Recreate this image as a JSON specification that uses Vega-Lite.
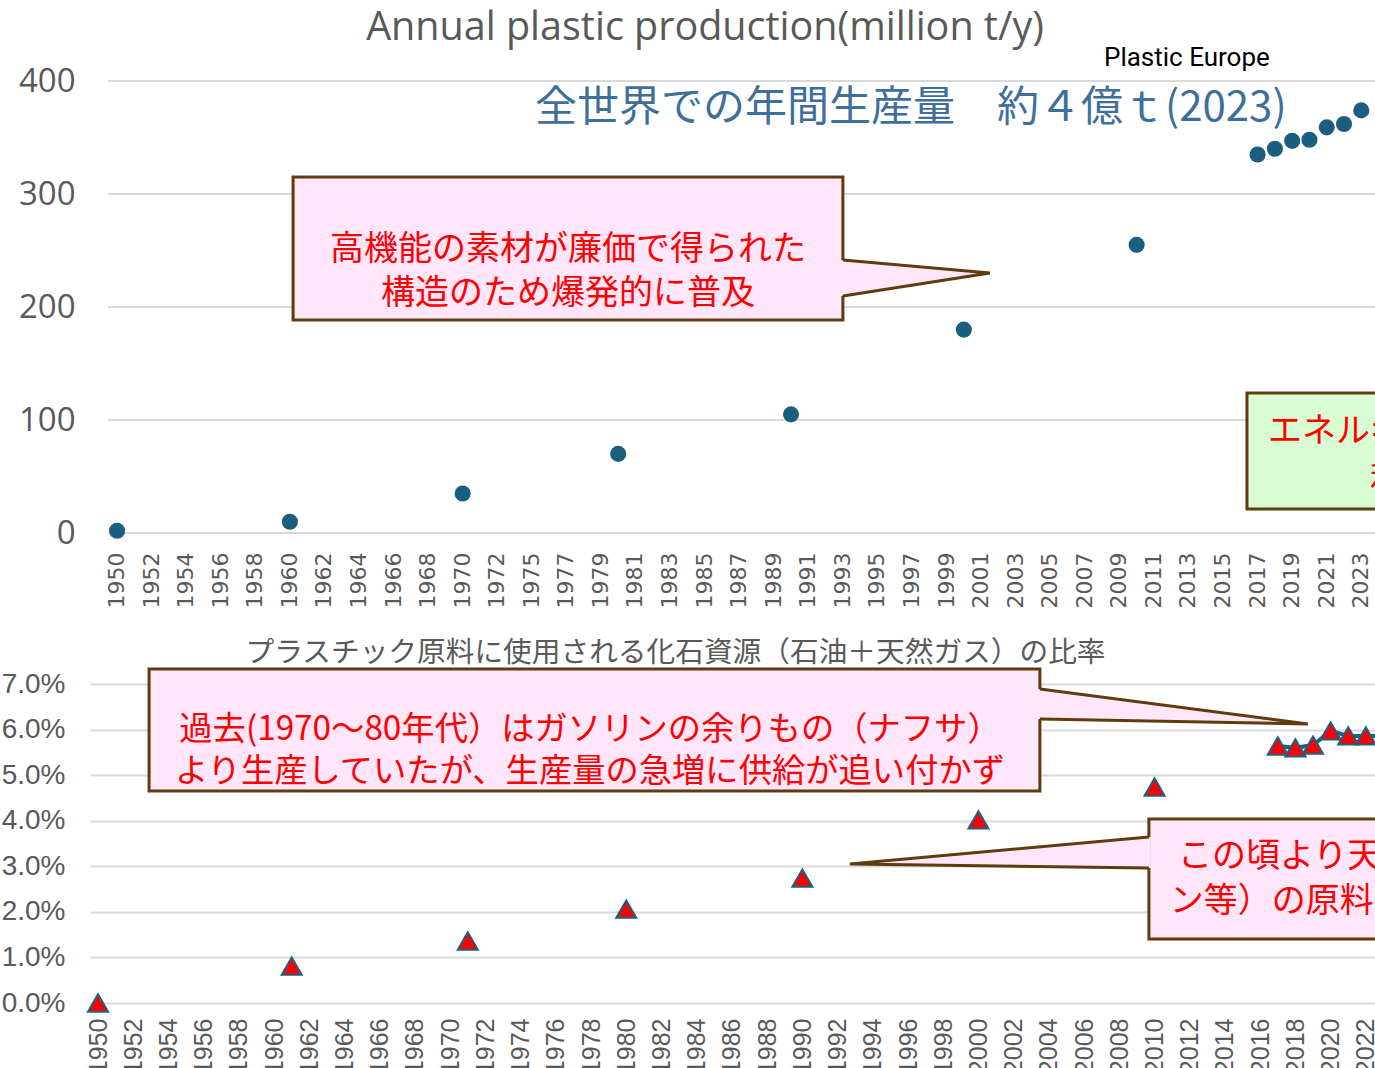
{
  "$schema": "https://vega.github.io/schema/vega-lite/v6.json",
  "usermeta": {"embedOptions": {"actions": false}},
  "padding": {"left": 0, "top": 8, "right": 0, "bottom": 0},
  "background": "white",
  "spacing": 30,
  "config": {"view": {"stroke": null}},
  "datasets": {
    "production": [
      {"year": 1950, "value": 2},
      {"year": 1960, "value": 10},
      {"year": 1970, "value": 35},
      {"year": 1980, "value": 70},
      {"year": 1990, "value": 105},
      {"year": 2000, "value": 180},
      {"year": 2010, "value": 255},
      {"year": 2017, "value": 335},
      {"year": 2018, "value": 340},
      {"year": 2019, "value": 347},
      {"year": 2020, "value": 348},
      {"year": 2021, "value": 359},
      {"year": 2022, "value": 362},
      {"year": 2023, "value": 374}
    ],
    "ratio": [
      {"year": 1950, "share": 0.0},
      {"year": 1961, "share": 0.0081},
      {"year": 1971, "share": 0.0136},
      {"year": 1980, "share": 0.0206},
      {"year": 1990, "share": 0.0274},
      {"year": 2000, "share": 0.0402},
      {"year": 2010, "share": 0.0474},
      {"year": 2017, "share": 0.0564},
      {"year": 2018, "share": 0.0560},
      {"year": 2019, "share": 0.0566},
      {"year": 2020, "share": 0.0597},
      {"year": 2021, "share": 0.0586},
      {"year": 2022, "share": 0.0586},
      {"year": 2023, "share": 0.0586}
    ]
  },
  "vconcat": [
    {
      "title": {"text": "Annual plastic production(million t/y)", "font": "Open Sans", "fontSize": 39.5, "fontWeight": "normal", "color": "#595959", "dx": -27.5, "offset": -4, "frame": "group"},
      "width": 1285,
      "height": 452,
      "resolve": {"scale": {"x": "independent"}},
      "layer": [
        {
          "encoding": {
            "x": {"field": "x", "type": "quantitative", "title": null, "axis": null, "scale": {"domain": [-1.5656, 72.7547], "nice": false, "zero": false}},
            "y": {"field": "y", "type": "quantitative", "title": null, "scale": {"domain": [0, 400], "nice": false, "zero": true}}
          },
          "layer": [
            {
              "data": {"values": [{"x": -0.525, "x2": 72.7547, "y": 0}, {"x": -0.525, "x2": 72.7547, "y": 100}, {"x": -0.525, "x2": 72.7547, "y": 200}, {"x": -0.525, "x2": 72.7547, "y": 300}, {"x": -0.525, "x2": 72.7547, "y": 400}]},
              "mark": {"type": "rule", "color": "#d9d9d9", "strokeWidth": 2},
              "encoding": {"x2": {"field": "x2"}}
            },
            {
              "data": {"values": [{"x": 10.18, "x2": 41.98, "y": 315.0, "y2": 188.5}]},
              "mark": {"type": "rect", "fill": "#ffe6fb", "stroke": "#603b0c", "strokeWidth": 3},
              "encoding": {"x2": {"field": "x2"}, "y2": {"field": "y2"}}
            },
            {
              "data": {"values": [{"x": 41.86, "y": 241.6, "y2": 209.7}, {"x": 50.48, "y": 230.1, "y2": 230.1}]},
              "mark": {"type": "area", "fill": "#ffe6fb", "orient": "vertical"},
              "encoding": {"y2": {"field": "y2"}}
            },
            {
              "data": {"values": [{"x": 41.98, "y": 241.6, "o": 1}, {"x": 50.48, "y": 230.1, "o": 2}, {"x": 41.98, "y": 209.7, "o": 3}]},
              "mark": {"type": "line", "stroke": "#603b0c", "strokeWidth": 3},
              "encoding": {"order": {"field": "o", "type": "quantitative"}}
            },
            {
              "data": {"values": [{"x": 26.08, "y": 250.4, "label": "高機能の素材が廉価で得られた\n構造のため爆発的に普及"}]},
              "mark": {"type": "text", "font": "Noto Sans CJK JP", "fontSize": 34, "lineHeight": 44, "lineBreak": "\n", "color": "#ff0000", "align": "center", "baseline": "middle"},
              "encoding": {"text": {"field": "label"}}
            },
            {
              "data": {"values": [{"x": 65.35, "x2": 80, "y": 123.9, "y2": 21.2}]},
              "mark": {"type": "rect", "fill": "#d8fdd3", "stroke": "#603b0c", "strokeWidth": 3, "clip": true},
              "encoding": {"x2": {"field": "x2"}, "y2": {"field": "y2"}}
            },
            {
              "data": {"values": [{"x": 66.57, "y": 89.4, "label": "エネルギー資源としての"}, {"x": 72.47, "y": 46.9, "label": "利用"}]},
              "mark": {"type": "text", "font": "Noto Sans CJK JP", "fontSize": 34, "color": "#ff0000", "align": "left", "baseline": "middle", "clip": true},
              "encoding": {"text": {"field": "label"}}
            },
            {
              "data": {"values": [{"x": 24.17, "y": 376.1, "label": "全世界での年間生産量　約４億ｔ(2023)"}]},
              "mark": {"type": "text", "font": "Noto Sans CJK JP", "fontSize": 42, "color": "#3e6f9c", "align": "left", "baseline": "middle"},
              "encoding": {"text": {"field": "label"}}
            },
            {
              "data": {"values": [{"x": 57.08, "y": 420.4, "label": "Plastic Europe"}]},
              "mark": {"type": "text", "font": "Roboto", "fontSize": 26, "color": "#000000", "align": "left", "baseline": "middle"},
              "encoding": {"text": {"field": "label"}}
            }
          ]
        },
        {
          "data": {"name": "production"},
          "mark": {"type": "circle", "size": 260, "opacity": 1, "color": "#1b5f80"},
          "encoding": {
            "x": {"field": "year", "type": "ordinal", "title": null,
              "scale": {"type": "band", "paddingInner": 0, "paddingOuter": 0.68, "align": 0.784,
                "domain": [1950,1951,1952,1953,1954,1955,1956,1957,1958,1959,1960,1961,1962,1963,1964,1965,1966,1967,1968,1969,1970,1971,1972,1973,1975,1976,1977,1978,1979,1980,1981,1982,1983,1984,1985,1986,1987,1988,1989,1990,1991,1992,1993,1994,1995,1996,1997,1998,1999,2000,2001,2002,2003,2004,2005,2006,2007,2008,2009,2010,2011,2012,2013,2014,2015,2016,2017,2018,2019,2020,2021,2022,2023]},
              "axis": {"values": [1950,1952,1954,1956,1958,1960,1962,1964,1966,1968,1970,1972,1975,1977,1979,1981,1983,1985,1987,1989,1991,1993,1995,1997,1999,2001,2003,2005,2007,2009,2011,2013,2015,2017,2019,2021,2023],
                "labelAngle": -90, "labelFont": "DejaVu Sans", "labelFontSize": 22, "labelColor": "#595959", "ticks": false, "domain": false, "grid": false, "labelPadding": 19, "labelOverlap": false, "labelBound": false}},
            "y": {"field": "value", "type": "quantitative", "title": null,
              "scale": {"domain": [0, 400], "nice": false, "zero": true},
              "axis": {"values": [0, 100, 200, 300, 400], "grid": false, "domain": false, "ticks": false, "labelFont": "Open Sans", "labelFontSize": 33, "labelColor": "#595959", "labelPadding": 15, "minExtent": 90, "maxExtent": 90}}
          }
        }
      ]
    },
    {
      "title": {"text": "プラスチック原料に使用される化石資源（石油＋天然ガス）の比率", "font": "Noto Sans CJK JP", "fontSize": 28.7, "fontWeight": "normal", "color": "#595959", "dx": -57, "offset": 0, "frame": "group"},
      "width": 1285,
      "height": 319,
      "encoding": {
        "x": {"type": "quantitative", "title": null, "scale": {"domain": [1949.545, 2022.52], "nice": false, "zero": false},
          "axis": {"values": [1950,1952,1954,1956,1958,1960,1962,1964,1966,1968,1970,1972,1974,1976,1978,1980,1982,1984,1986,1988,1990,1992,1994,1996,1998,2000,2002,2004,2006,2008,2010,2012,2014,2016,2018,2020,2022],
            "format": "d", "labelAngle": -90, "labelFont": "Liberation Sans", "labelFontSize": 25, "labelColor": "#595959", "ticks": false, "domain": false, "grid": false, "labelPadding": 15, "labelOverlap": false, "labelBound": false}},
        "y": {"type": "quantitative", "title": null, "scale": {"domain": [0, 0.07], "nice": false, "zero": true},
          "axis": {"values": [0, 0.01, 0.02, 0.03, 0.04, 0.05, 0.06, 0.07], "format": ".1%", "grid": true, "gridColor": "#d9d9d9", "gridWidth": 2, "domain": false, "ticks": false, "labelFont": "Liberation Sans", "labelFontSize": 28, "labelColor": "#595959", "labelPadding": 25, "minExtent": 90, "maxExtent": 90}}
      },
      "layer": [
        {
          "data": {"name": "ratio"},
          "transform": [{"filter": "datum.year >= 2017"}],
          "mark": {"type": "line", "stroke": "#1f6080", "strokeWidth": 4, "clip": true},
          "encoding": {
            "x": {"field": "year", "type": "quantitative"},
            "y": {"field": "share", "type": "quantitative"}
          }
        },
        {
          "data": {"name": "ratio"},
          "transform": [{"filter": "datum.year <= 2022"}],
          "mark": {"type": "point", "shape": "triangle-up", "filled": true, "fill": "#ff0000", "stroke": "#1f6080", "strokeWidth": 2, "size": 400, "opacity": 1},
          "encoding": {
            "x": {"field": "year", "type": "quantitative"},
            "y": {"field": "share", "type": "quantitative"}
          }
        },
        {
          "data": {"values": [{"x": 1952.90, "x2": 2003.49, "y": 0.07329, "y2": 0.04652}]},
          "mark": {"type": "rect", "fill": "#ffe6fb", "stroke": "#603b0c", "strokeWidth": 3},
          "encoding": {"x": {"field": "x", "type": "quantitative"}, "x2": {"field": "x2"}, "y": {"field": "y", "type": "quantitative"}, "y2": {"field": "y2"}}
        },
        {
          "data": {"values": [{"x": 2003.38, "y": 0.0689, "y2": 0.06232}, {"x": 2018.71, "y": 0.06122, "y2": 0.06122}]},
          "mark": {"type": "area", "fill": "#ffe6fb", "orient": "vertical"},
          "encoding": {"x": {"field": "x", "type": "quantitative"}, "y": {"field": "y", "type": "quantitative"}, "y2": {"field": "y2"}}
        },
        {
          "data": {"values": [{"x": 2003.49, "y": 0.0689, "o": 1}, {"x": 2018.71, "y": 0.06122, "o": 2}, {"x": 2003.49, "y": 0.06232, "o": 3}]},
          "mark": {"type": "line", "stroke": "#603b0c", "strokeWidth": 3},
          "encoding": {"x": {"field": "x", "type": "quantitative"}, "y": {"field": "y", "type": "quantitative"}, "order": {"field": "o", "type": "quantitative"}}
        },
        {
          "data": {"values": [{"x": 1977.94, "y": 0.05991, "label": "過去(1970～80年代）はガソリンの余りもの（ナフサ）\nより生産していたが、生産量の急増に供給が追い付かず"}]},
          "mark": {"type": "text", "font": "Noto Sans CJK JP", "fontSize": 33.3, "lineHeight": 42, "lineBreak": "\n", "color": "#ff0000", "align": "center", "baseline": "middle"},
          "encoding": {"x": {"field": "x", "type": "quantitative"}, "y": {"field": "y", "type": "quantitative"}, "text": {"field": "label"}}
        },
        {
          "data": {"values": [{"x": 2009.68, "x2": 2030, "y": 0.04038, "y2": 0.01404}]},
          "mark": {"type": "rect", "fill": "#ffe6fb", "stroke": "#603b0c", "strokeWidth": 3, "clip": true},
          "encoding": {"x": {"field": "x", "type": "quantitative"}, "x2": {"field": "x2"}, "y": {"field": "y", "type": "quantitative"}, "y2": {"field": "y2"}}
        },
        {
          "data": {"values": [{"x": 1992.70, "y": 0.0305, "y2": 0.0305}, {"x": 2009.79, "y": 0.03643, "y2": 0.02962}]},
          "mark": {"type": "area", "fill": "#ffe6fb", "orient": "vertical"},
          "encoding": {"x": {"field": "x", "type": "quantitative"}, "y": {"field": "y", "type": "quantitative"}, "y2": {"field": "y2"}}
        },
        {
          "data": {"values": [{"x": 2009.68, "y": 0.03643, "o": 1}, {"x": 1992.70, "y": 0.0305, "o": 2}, {"x": 2009.68, "y": 0.02962, "o": 3}]},
          "mark": {"type": "line", "stroke": "#603b0c", "strokeWidth": 3},
          "encoding": {"x": {"field": "x", "type": "quantitative"}, "y": {"field": "y", "type": "quantitative"}, "order": {"field": "o", "type": "quantitative"}}
        },
        {
          "data": {"values": [{"x": 2011.33, "y": 0.03204, "label": "この頃より天然ガス（エタ"}, {"x": 2010.87, "y": 0.02216, "label": "ン等）の原料としての利用が拡大"}]},
          "mark": {"type": "text", "font": "Noto Sans CJK JP", "fontSize": 34, "color": "#ff0000", "align": "left", "baseline": "middle", "clip": true},
          "encoding": {"x": {"field": "x", "type": "quantitative"}, "y": {"field": "y", "type": "quantitative"}, "text": {"field": "label"}}
        }
      ]
    }
  ]
}
